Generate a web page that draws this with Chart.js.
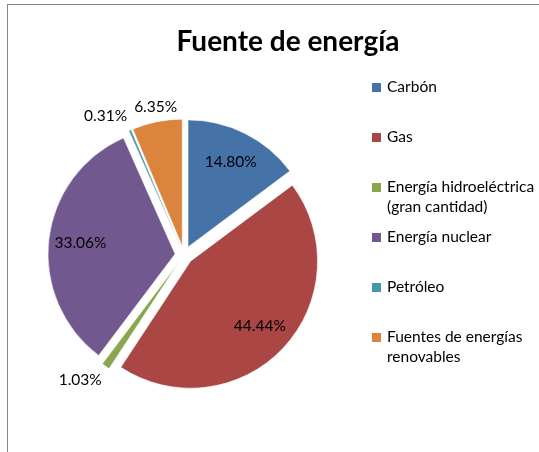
<!DOCTYPE html>
<html>
<head>
<meta charset="utf-8">
<script src="https://cdn.jsdelivr.net/npm/chart.js@4.4.1/dist/chart.umd.min.js"></script>
<style>
    body { margin: 0; background: #fff; overflow: hidden; }
    #marco {
        position: absolute; left: 7px; top: 4px;
        width: 560px; height: 460px;
        border: 1px solid #878787; background: #fff;
    }
</style>
</head>
<body>
<div id="marco"><canvas id="grafico" width="560" height="460"></canvas></div>
<script>
// datos del grafico
const titulo = 'Fuente de energía'
const etiquetas = ['Carbón', 'Gas', 'Energía hidroeléctrica (gran cantidad)', 'Energía nuclear', 'Petróleo', 'Fuentes de energías renovables']
const lineasLeyenda = [['Carbón'], ['Gas'], ['Energía hidroeléctrica', '(gran cantidad)'], ['Energía nuclear'], ['Petróleo'], ['Fuentes de energías', 'renovables']]
const valores = [14.80, 44.44, 1.03, 33.06, 0.31, 6.35]
const colores = ['#4572A7', '#AA4643', '#89A54E', '#71588F', '#4198AF', '#DB843D']

const fuente = 'Lato, "Open Sans", sans-serif'
const separacion = 9  // px que se separa cada porcion del centro

//? Porcion separada: se mueve entera sin cambiar el radio (como en Excel)
class ArcoSeparado extends Chart.ArcElement {
    draw(ctx) {
        const medio = (this.startAngle + this.endAngle) / 2
        ctx.save()
        ctx.translate(Math.cos(medio) * separacion, Math.sin(medio) * separacion)
        super.draw(ctx)
        ctx.restore()
    }
}
ArcoSeparado.id = 'arcoSeparado'

class PieSeparado extends Chart.PieController {}
PieSeparado.id = 'pieSeparado'
PieSeparado.defaults = { dataElementType: 'arcoSeparado' }

Chart.register(ArcoSeparado, PieSeparado)

//? Titulo y leyenda dibujados a mano
const pluginTextos = {
    id: 'textos',
    afterDraw(chart) {
        const ctx = chart.ctx
        ctx.save()
        ctx.fillStyle = '#000'
        ctx.font = 'bold 28px ' + fuente
        ctx.textAlign = 'center'
        ctx.textBaseline = 'middle'
        ctx.fillText(titulo, 280, 37)

        // leyenda a la derecha
        ctx.font = '15.5px ' + fuente
        ctx.textAlign = 'left'
        for (let c = 0; c < lineasLeyenda.length; c++) {
            const y = 82 + c * 50
            ctx.fillStyle = colores[c]
            ctx.fillRect(364, y - 4, 9, 9)
            ctx.fillStyle = '#000'
            for (let l = 0; l < lineasLeyenda[c].length; l++) {
                ctx.fillText(lineasLeyenda[c][l], 379, y + l * 20)
            }
        }
        ctx.restore()
    }
}

//? Porcentajes sobre las porciones
const pluginPorcentajes = {
    id: 'porcentajes',
    afterDatasetsDraw(chart) {
        const ctx = chart.ctx
        const arcos = chart.getDatasetMeta(0).data
        ctx.save()
        ctx.font = '15.5px ' + fuente
        ctx.fillStyle = '#000'
        for (let c = 0; c < arcos.length; c++) {
            const a = arcos[c].getProps(['x', 'y', 'startAngle', 'endAngle', 'outerRadius'], true)
            const medio = (a.startAngle + a.endAngle) / 2
            const cx = Math.cos(medio), cy = Math.sin(medio)
            const texto = valores[c].toFixed(2) + '%'
            if (valores[c] >= 10) {
                const d = a.outerRadius * 0.75 + separacion
                ctx.textAlign = 'center'
                ctx.textBaseline = 'middle'
                ctx.fillText(texto, a.x + cx * d, a.y + cy * d)
            } else {
                const d = a.outerRadius + separacion + 7
                ctx.textAlign = Math.abs(cx) < 0.3 ? 'center' : (cx < 0 ? 'right' : 'left')
                ctx.textBaseline = Math.abs(cy) < 0.3 ? 'middle' : (cy < 0 ? 'bottom' : 'top')
                ctx.fillText(texto, a.x + cx * d, a.y + cy * d)
            }
        }
        ctx.restore()
    }
}

const ctx = document.getElementById('grafico').getContext('2d')
new Chart(ctx, {
    type: 'pieSeparado',
    data: {
        labels: etiquetas,
        datasets: [{
            data: valores,
            backgroundColor: colores,
            borderColor: '#ffffff',
            borderWidth: 0.5
        }]
    },
    options: {
        responsive: false,
        animation: false,
        radius: 127,
        layout: { padding: { left: 0, right: 208, top: 60, bottom: 20 } },
        plugins: {
            legend: { display: false },
            title: { display: false },
            tooltip: { enabled: false }
        }
    },
    plugins: [pluginPorcentajes, pluginTextos]
})
</script>
</body>
</html>
